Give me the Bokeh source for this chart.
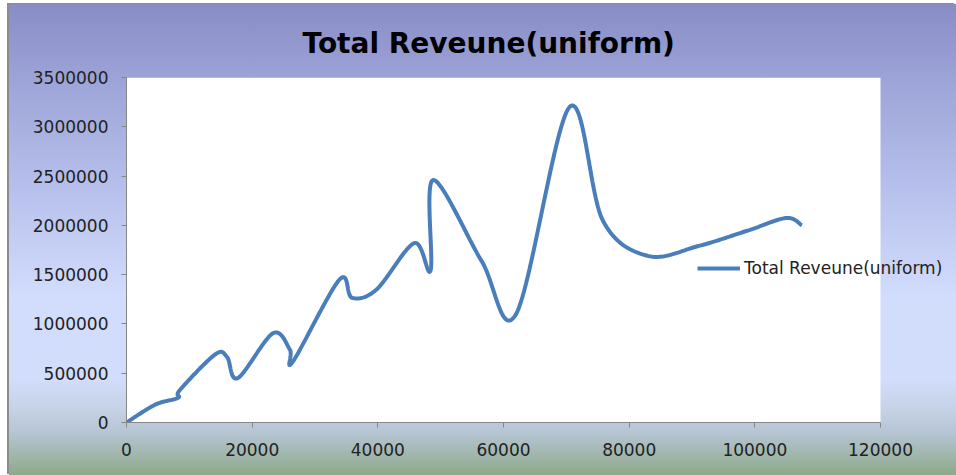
import numpy as np
from bokeh.plotting import figure
from bokeh.models import (Legend, LegendItem, SingleIntervalTicker, BasicTickFormatter,
                          Range1d, BoxAnnotation)
from bokeh.embed import file_html
from bokeh.resources import INLINE

title_text = "Total Reveune(uniform)"
series_name = "Total Reveune(uniform)"

quantity = [0, 4600, 8200, 8500, 14100, 16000, 17700, 23300, 26000, 26500,
            33900, 35900, 39800, 45800, 48400, 48800, 56500, 62000, 70500,
            75800, 83000, 91000, 99000, 105000, 107500]
revenue = [0, 182000, 250000, 330000, 690000, 665000, 450000, 905000, 740000, 620000,
           1450000, 1265000, 1350000, 1820000, 1545000, 2460000, 1640000, 1100000, 3200000,
           2050000, 1690000, 1790000, 1950000, 2075000, 2000000]

x_axis_max = 120000
y_axis_max = 3500000
x_ticks_interval = 20000
y_ticks_interval = 500000


def smooth(xs, ys, n=30):
    P = np.column_stack([xs, ys]).astype(float)
    E = np.vstack([P[0], P, P[-1]])
    out = []
    for i in range(len(P) - 1):
        p0, p1, p2, p3 = E[i], E[i + 1], E[i + 2], E[i + 3]
        c1 = p1 + (p2 - p0) / 6.0
        c2 = p2 - (p3 - p1) / 6.0
        t = np.linspace(0, 1, n, endpoint=(i == len(P) - 2))[:, None]
        seg = (1 - t) ** 3 * p1 + 3 * (1 - t) ** 2 * t * c1 + 3 * (1 - t) * t ** 2 * c2 + t ** 3 * p2
        out.append(seg)
    out = np.vstack(out)
    return out[:, 0], out[:, 1]


sx, sy = smooth(quantity, revenue)

# frame spans 126..956 px while the white plot area covers 0..120000 (126..880 px)
frame_px = 956 - 126
area_px = 880 - 126
x_view_end = x_axis_max * frame_px / area_px

p = figure(width=947, height=471, output_backend="svg", toolbar_location=None,
           x_range=Range1d(0, x_view_end), y_range=Range1d(0, y_axis_max),
           min_border_left=117, min_border_right=0, min_border_top=73, min_border_bottom=53)

p.styles = {
    "margin-left": "9px",
    "margin-top": "4px",
    "background-image": "linear-gradient(180deg, #888cc5 0%, #9ea5d8 17%, #b8c1ec 40%, #d2dcfc 62%, #d2dcfb 80%, #c6d2e6 86%, #b5c5d3 91%, #8ea98a 100%)",
    "box-shadow": "-2px -1px 0 #8c8c8c",
}
p.background_fill_color = None
p.border_fill_color = None
p.outline_line_color = None

plot_area = BoxAnnotation(left=0, right=x_axis_max, fill_color="white", fill_alpha=1.0,
                          line_color=None, level="underlay")
p.add_layout(plot_area)

p.title.text = title_text
p.title.align = "left"
p.title.offset = 176
p.title.text_font = "DejaVu Sans"
p.title.text_font_style = "bold"
p.title.text_font_size = "28px"
p.title.text_color = "black"
p.title.text_line_height = 0.75
p.title.standoff = 36

p.xgrid.visible = False
p.ygrid.grid_line_color = "#8c8c8c"
p.ygrid.grid_line_width = 1
p.ygrid.bounds = (0, x_axis_max)
p.ygrid.level = "glyph"

p.xaxis.ticker = SingleIntervalTicker(interval=x_ticks_interval)
p.yaxis.ticker = SingleIntervalTicker(interval=y_ticks_interval)
p.yaxis.formatter = BasicTickFormatter(use_scientific=False)
p.xaxis.formatter = BasicTickFormatter(use_scientific=False)
p.xaxis.bounds = (0, x_axis_max)

for ax in (p.xaxis, p.yaxis):
    ax.axis_line_color = "#868686"
    ax.major_tick_line_color = "#868686"
    ax.minor_tick_line_color = None
    ax.major_tick_in = 0
    ax.major_tick_out = 5
    ax.major_label_text_font = "DejaVu Sans"
    ax.major_label_text_font_size = "17px"
    ax.major_label_text_color = "#222222"
p.yaxis.major_label_standoff = 13
p.xaxis.major_label_standoff = 15

r = p.line(sx, sy, line_color="#4a7ebb", line_width=4)

legend = Legend(items=[LegendItem(label=series_name, renderers=[r])],
                location=(571, 144), padding=0, margin=0, spacing=0,
                border_line_color=None, background_fill_alpha=0,
                glyph_width=43, label_standoff=4,
                label_text_font="DejaVu Sans", label_text_font_size="17px",
                label_text_color="#222222")
p.add_layout(legend, "center")

open("out.html", "w").write(file_html(p, INLINE))
